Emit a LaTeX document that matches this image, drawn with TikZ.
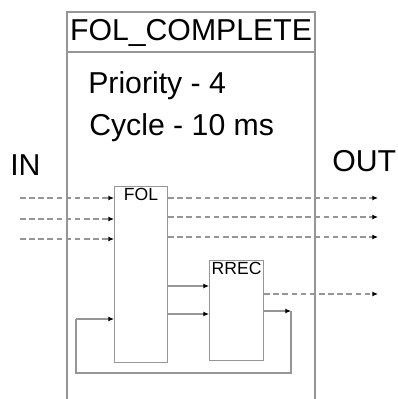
\documentclass[tikz,border=0pt]{standalone}
\usepackage{fontspec}
\setmainfont{Liberation Sans}
\usetikzlibrary{arrows.meta,positioning}
\definecolor{LineGray}{RGB}{150,150,150}

\begin{document}
\begin{tikzpicture}[
    x=0.025cm, y=-0.025cm,
    fb/.style={draw=LineGray, thick, minimum width=53*0.025cm, inner sep=0pt},
    big/.style={font=\fontsize{21.5}{24}\selectfont, inner sep=0pt},
    small/.style={font=\fontsize{12.5}{14}\selectfont, inner sep=0pt},
    sig/.style={LineGray, thick, dashed, dash pattern=on 4pt off 2.5pt, -{Latex[length=4pt,width=3.5pt,black]}},
    wire/.style={LineGray, thick, -{Latex[length=4pt,width=3.5pt,black]}},
    loopw/.style={LineGray, thick}
]
\useasboundingbox (0,0) rectangle (398,399);

%% ---- container ----
\draw[LineGray, thick] (67,399) -- (67,12) -- (315,12) -- (315,399);
\draw[LineGray, thick] (67,52) -- (315,52);
\node[big] (title) at (191,33) {FOL\_COMPLETE};
\node[big, anchor=west] (prio)  at (88,86)  {Priority - 4};
\node[big, anchor=west] (cycle) at (89,128) {Cycle - 10 ms};
\node[big, anchor=west] (in)  at (10,165) {IN};
\node[big, anchor=west] (out) at (332,161) {OUT};

%% ---- blocks ----
\node[fb, anchor=north west, minimum height=176*0.025cm] (fol) at (114,186) {};
\node[small, anchor=north] at ([yshift=-1.5pt]fol.north) {FOL};
\node[fb, anchor=north west, minimum height=100*0.025cm, minimum width=54*0.025cm] (rrec) at (209,260) {};
\node[small, anchor=north] at ([yshift=-1.5pt]rrec.north) {RREC};

%% ---- free ends ----
\coordinate (i1) at (20,198);
\coordinate (i2) at (20,219);
\coordinate (i3) at (20,239);
\coordinate (o1) at (378,198);
\coordinate (o2) at (378,217);
\coordinate (o3) at (378,237);
\coordinate (o4) at (378,294);
\coordinate (fbk) at (291,311);
\coordinate (fbl) at (76,373);

%% ---- inputs / outputs ----
\draw[sig] (i1) -- (fol.west |- i1);
\draw[sig] (i2) -- (fol.west |- i2);
\draw[sig] (i3) -- (fol.west |- i3);
\draw[sig] (fol.east |- o1) -- (o1);
\draw[sig] (fol.east |- o2) -- (o2);
\draw[sig] (fol.east |- o3) -- (o3);
\draw[sig] (rrec.east |- o4) -- (o4);

%% ---- FOL to RREC ----
\draw[wire] (fol.east |- 0,286) -- (rrec.west |- 0,286);
\draw[wire] (fol.east |- 0,314) -- (rrec.west |- 0,314);

%% ---- feedback ----
\draw[wire] (rrec.east |- fbk) -- (fbk);
\draw[loopw] (fbk) |- (fbl) -- (fbl |- 0,319);
\draw[wire] (fbl |- 0,319) -- (fol.west |- 0,319);

\end{tikzpicture}
\end{document}
